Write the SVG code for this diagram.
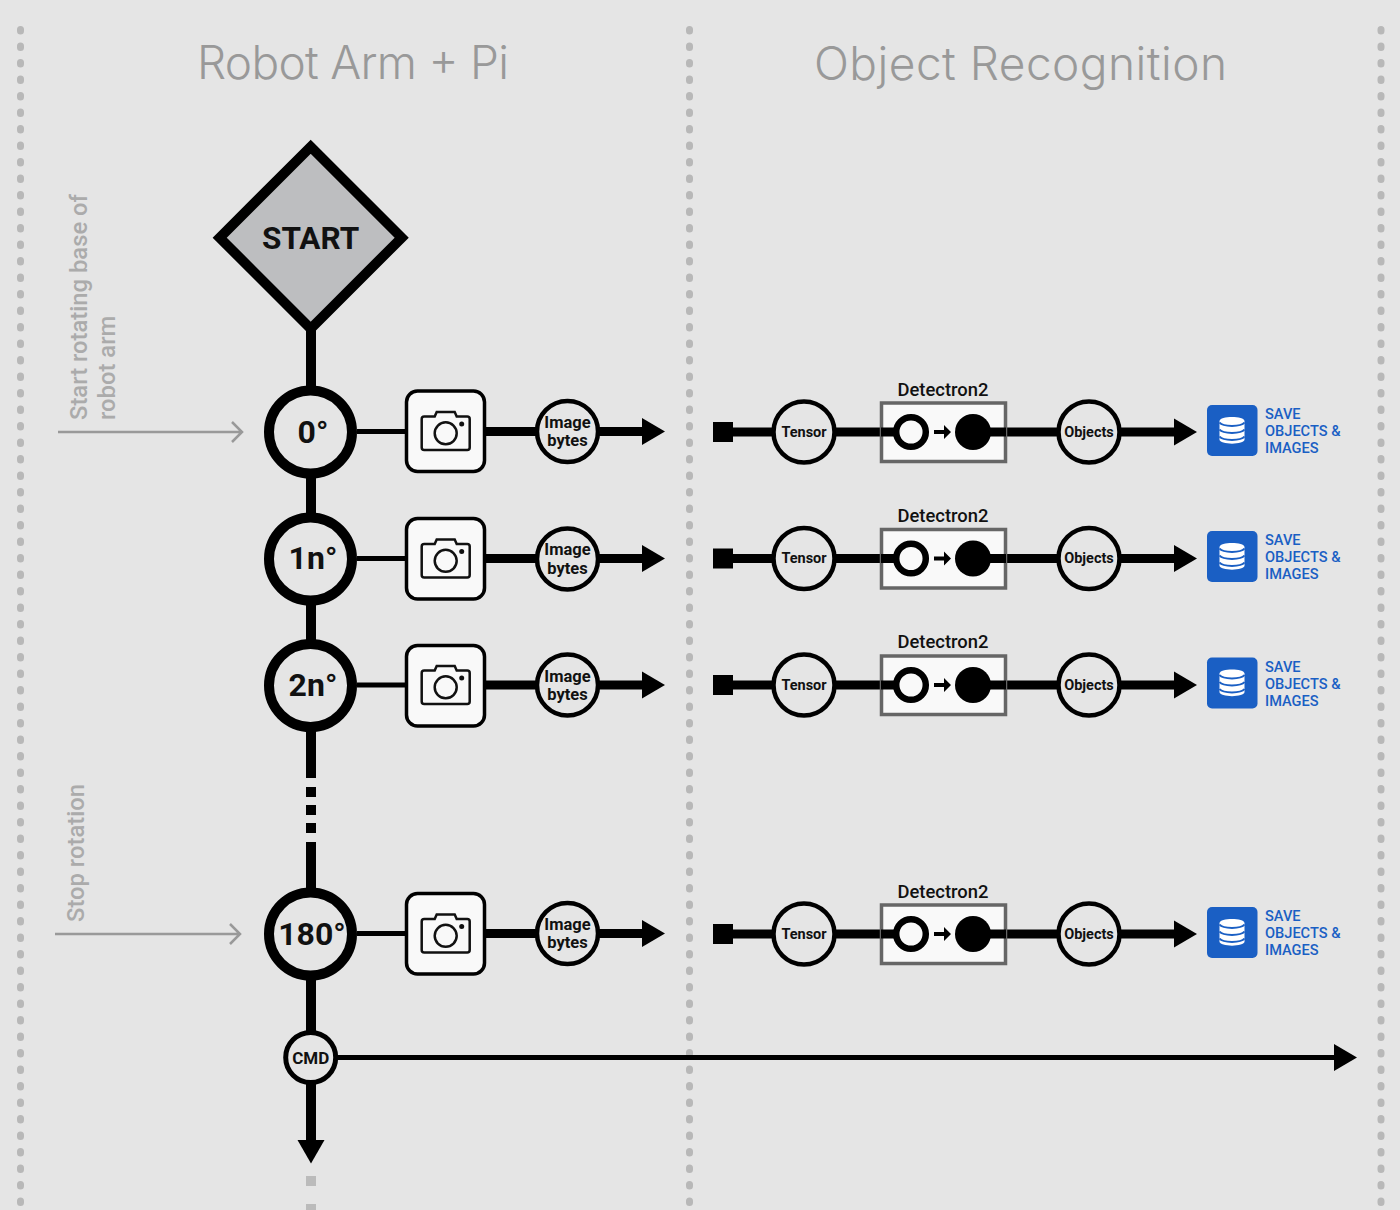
<svg xmlns="http://www.w3.org/2000/svg" xmlns:xlink="http://www.w3.org/1999/xlink" width="1400" height="1210" viewBox="0 0 1400 1210">
<style>
text{font-family:Roboto,"Liberation Sans",sans-serif;fill:#111;text-anchor:middle}
.title{font-family:Inter,"Liberation Sans",sans-serif;font-size:46px;font-weight:300;fill:#999}
.note{font-size:23.8px;font-weight:500;fill:#ababab;text-anchor:start}
.deg{font-size:32px;font-weight:700}
.small{font-size:16.5px;font-weight:700}
.tiny{font-size:14.5px;font-weight:700}
.det{font-size:18.4px;font-weight:500}
.save{font-size:14.6px;font-weight:500;fill:#1a5fc4;text-anchor:start}
.dots{stroke:#b8b8b8;stroke-width:7;stroke-linecap:round;stroke-dasharray:1.5 15;fill:none}
.big{fill:#e5e5e5;stroke:#000;stroke-width:10}
.mid{fill:#e5e5e5;stroke:#000;stroke-width:4.5}
.thick{stroke:#000;stroke-width:9;fill:none}
.thin{stroke:#000;stroke-width:5;fill:none}
.spine{stroke:#000;stroke-width:10;fill:none}
.hint{stroke:#999;stroke-width:2.500;fill:none}
.box{fill:#f9f9f9;stroke:#000;stroke-width:3.5}
.dbox{fill:#f9f9f9;stroke:#666;stroke-width:3.5}
</style>
<defs>
<g id="cam" fill="none" stroke="#111" stroke-width="2.5">
<path d="M-21.5,-15H-11L-9,-19.5H9L11,-15H21.5Q24,-15 24,-12.500V16Q24,18.500 21.500,18.500H-21.500Q-24,18.500 -24,16V-12.500Q-24,-15 -21.500,-15Z"/>
<circle cx="0" cy="1.800" r="11"/>
<circle cx="16" cy="-7.500" r="2.500" fill="#111" stroke="none"/>
</g>
<g id="db">
<rect x="-25" y="-25.500" width="50.500" height="51" rx="5" fill="#1a5fc4"/>
<path d="M-12.500,-9.500C-12.500,-15 12.500,-15 12.500,-9.500V9C12.500,14.500 -12.500,14.500 -12.500,9Z" fill="#fff"/>
<path d="M-12.500,-8C-9,-3.500 9,-3.500 12.500,-8M-12.500,-1C-9,3.500 9,3.500 12.500,-1M-12.500,6C-9,10.500 9,10.500 12.500,6" fill="none" stroke="#1a5fc4" stroke-width="2"/>
</g>
<g id="head"><path d="M0,-13.500L23,0L0,13.500Z" fill="#000"/></g>
</defs>
<rect width="1400" height="1210" fill="#e5e5e5"/>
<g id="separators">
<line class="dots" x1="20.500" y1="29.500" x2="20.500" y2="1210"/>
<line class="dots" x1="689.500" y1="29.500" x2="689.500" y2="1210"/>
<line class="dots" x1="1381" y1="29.500" x2="1381" y2="1210"/>
</g>
<g id="titles">
<text class="title" x="353" y="78.500" textLength="312" lengthAdjust="spacing">Robot Arm + Pi</text>
<text class="title" x="1020.500" y="79.500" textLength="413" lengthAdjust="spacing">Object Recognition</text>
</g>
<g id="notes">
<text class="note" transform="translate(87,420) rotate(-90)">Start rotating base of</text>
<text class="note" transform="translate(114.500,420) rotate(-90)">robot arm</text>
<text class="note" transform="translate(84,922) rotate(-90)">Stop rotation</text>
</g>
<g id="connectors">
<path class="spine" d="M311,325V778M311,787V797M311,805V815M311,823V833M311,842V1140"/>
<path d="M297.500,1140H324.500L311,1163.500Z" fill="#000"/>
<path d="M306,1176h10v10h-10ZM306,1204h10v6h-10Z" fill="#bbb"/>
<path class="hint" d="M58,432H242M232,422L242,432L232,442"/>
<path class="hint" d="M55,934H240M230,924L240,934L230,944"/>
<path class="thin" d="M357,431.500H405M357,558.500H405M357,685H405M357,933.500H405M337,1057.500H1335"/>
<use href="#head" x="1334" y="1057.500"/>
<path class="thick" d="M486,431.500H642M486,558.500H642M486,685H642M486,933.500H642"/>
<use href="#head" x="642" y="431.500"/><use href="#head" x="642" y="558.500"/><use href="#head" x="642" y="685"/><use href="#head" x="642" y="933.500"/>
<path d="M713,422h20v20h-20ZM713,548.500h20v20h-20ZM713,675h20v20h-20ZM713,924h20v20h-20Z" fill="#000"/>
<path class="thick" d="M733,432H895M733,558.500H895M733,685H895M733,934H895M973,432H1174M973,558.500H1174M973,685H1174M973,934H1174"/>
<use href="#head" x="1174" y="432"/><use href="#head" x="1174" y="558.500"/><use href="#head" x="1174" y="685"/><use href="#head" x="1174" y="934"/>
</g>
<g id="start">
<polygon points="310.700,146.700 401.700,237.700 310.700,328.700 219.700,237.700" fill="#bdbec0" stroke="#000" stroke-width="10" stroke-miterlimit="4"/>
<text x="310.700" y="249" font-size="31.500" font-weight="700">START</text>
</g>
<g id="deg0"><circle class="big" cx="310.500" cy="432" r="41.500"/><text class="deg" x="313" y="443">0°</text></g>
<g id="deg1n"><circle class="big" cx="310.500" cy="559" r="41.500"/><text class="deg" x="313" y="569.400">1n°</text></g>
<g id="deg2n"><circle class="big" cx="310.500" cy="685.500" r="41.500"/><text class="deg" x="313" y="696">2n°</text></g>
<g id="deg180"><circle class="big" cx="310.500" cy="934" r="41.500"/><text class="deg" x="312" y="945">180°</text></g>
<g id="cam0"><rect class="box" x="406.500" y="391" width="78" height="80.500" rx="11"/><use href="#cam" x="445.700" y="431.500"/></g>
<g id="cam1"><rect class="box" x="406.500" y="518.500" width="78" height="80.500" rx="11"/><use href="#cam" x="445.700" y="559"/></g>
<g id="cam2"><rect class="box" x="406.500" y="645.500" width="78" height="80.500" rx="11"/><use href="#cam" x="445.700" y="685.500"/></g>
<g id="cam3"><rect class="box" x="406.500" y="893.500" width="78" height="80.500" rx="11"/><use href="#cam" x="445.700" y="934"/></g>
<g id="img0"><circle class="mid" cx="567.500" cy="431.500" r="30.500"/><text class="small" x="567.500" y="428">Image</text><text class="small" x="567.500" y="446">bytes</text></g>
<g id="img1"><circle class="mid" cx="567.500" cy="559" r="30.500"/><text class="small" x="567.500" y="555">Image</text><text class="small" x="567.500" y="573.500">bytes</text></g>
<g id="img2"><circle class="mid" cx="567.500" cy="685" r="30.500"/><text class="small" x="567.500" y="682">Image</text><text class="small" x="567.500" y="700">bytes</text></g>
<g id="img3"><circle class="mid" cx="567.500" cy="933.500" r="30.500"/><text class="small" x="567.500" y="930">Image</text><text class="small" x="567.500" y="948">bytes</text></g>
<g id="tensor0"><circle class="mid" cx="804" cy="432" r="30.500"/><text class="tiny" x="804" y="437">Tensor</text></g>
<g id="tensor1"><circle class="mid" cx="804" cy="558.500" r="30.500"/><text class="tiny" x="804" y="563">Tensor</text></g>
<g id="tensor2"><circle class="mid" cx="804" cy="685" r="30.500"/><text class="tiny" x="804" y="689.500">Tensor</text></g>
<g id="tensor3"><circle class="mid" cx="804" cy="934" r="30.500"/><text class="tiny" x="804" y="939">Tensor</text></g>
<g id="det0"><text class="det" x="943" y="396">Detectron2</text><rect class="dbox" x="881.500" y="403" width="124" height="58.500"/><path class="thick" d="M881,432H895M1006,432H973"/><circle cx="911" cy="432" r="14.800" fill="#f9f9f9" stroke="#000" stroke-width="6.500"/><path d="M934,430h10v-5l7,7l-7,7v-5h-10Z" fill="#000"/><circle cx="973" cy="432" r="18" fill="#000"/></g>
<g id="det1"><text class="det" x="943" y="522">Detectron2</text><rect class="dbox" x="881.500" y="529.500" width="124" height="58.500"/><path class="thick" d="M881,558.500H895M1006,558.500H973"/><circle cx="911" cy="558.500" r="14.800" fill="#f9f9f9" stroke="#000" stroke-width="6.500"/><path d="M934,556.500h10v-5l7,7l-7,7v-5h-10Z" fill="#000"/><circle cx="973" cy="558.500" r="18" fill="#000"/></g>
<g id="det2"><text class="det" x="943" y="648">Detectron2</text><rect class="dbox" x="881.500" y="656" width="124" height="58.500"/><path class="thick" d="M881,685H895M1006,685H973"/><circle cx="911" cy="685" r="14.800" fill="#f9f9f9" stroke="#000" stroke-width="6.500"/><path d="M934,683h10v-5l7,7l-7,7v-5h-10Z" fill="#000"/><circle cx="973" cy="685" r="18" fill="#000"/></g>
<g id="det3"><text class="det" x="943" y="898">Detectron2</text><rect class="dbox" x="881.500" y="905" width="124" height="58.500"/><path class="thick" d="M881,934H895M1006,934H973"/><circle cx="911" cy="934" r="14.800" fill="#f9f9f9" stroke="#000" stroke-width="6.500"/><path d="M934,932h10v-5l7,7l-7,7v-5h-10Z" fill="#000"/><circle cx="973" cy="934" r="18" fill="#000"/></g>
<g id="obj0"><circle class="mid" cx="1089" cy="432" r="30.500"/><text class="tiny" x="1089" y="437">Objects</text></g>
<g id="obj1"><circle class="mid" cx="1089" cy="558.500" r="30.500"/><text class="tiny" x="1089" y="563">Objects</text></g>
<g id="obj2"><circle class="mid" cx="1089" cy="685" r="30.500"/><text class="tiny" x="1089" y="689.500">Objects</text></g>
<g id="obj3"><circle class="mid" cx="1089" cy="934" r="30.500"/><text class="tiny" x="1089" y="939">Objects</text></g>
<g id="save0"><use href="#db" x="1232" y="430.500"/><text class="save" x="1265" y="419">SAVE</text><text class="save" x="1265" y="436">OBJECTS &amp;</text><text class="save" x="1265" y="453">IMAGES</text></g>
<g id="save1"><use href="#db" x="1232" y="556.500"/><text class="save" x="1265" y="545">SAVE</text><text class="save" x="1265" y="562">OBJECTS &amp;</text><text class="save" x="1265" y="579">IMAGES</text></g>
<g id="save2"><use href="#db" x="1232" y="683"/><text class="save" x="1265" y="671.500">SAVE</text><text class="save" x="1265" y="688.500">OBJECTS &amp;</text><text class="save" x="1265" y="705.500">IMAGES</text></g>
<g id="save3"><use href="#db" x="1232" y="932.500"/><text class="save" x="1265" y="921">SAVE</text><text class="save" x="1265" y="938">OBJECTS &amp;</text><text class="save" x="1265" y="955">IMAGES</text></g>
<g id="cmd"><circle cx="310.700" cy="1057.500" r="25" fill="#e5e5e5" stroke="#000" stroke-width="5"/><text x="310.700" y="1063.500" font-size="17" font-weight="700">CMD</text></g>
</svg>
